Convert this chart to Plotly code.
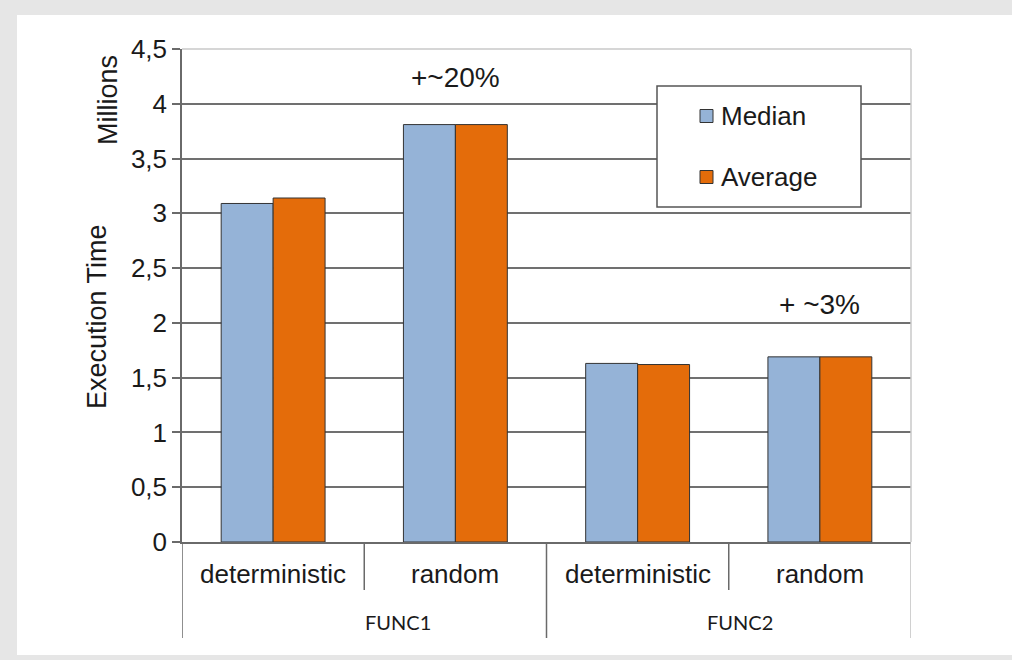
import plotly.graph_objects as go

groups = ["FUNC1", "FUNC1", "FUNC2", "FUNC2"]
methods = ["deterministic", "random", "deterministic", "random"]
categories = ["F1 det", "F1 rnd", "F2 det", "F2 rnd"]
median_vals = [3.09, 3.81, 1.63, 1.69]
average_vals = [3.14, 3.81, 1.62, 1.69]
y_ticks = [0, 0.5, 1, 1.5, 2, 2.5, 3, 3.5, 4, 4.5]
y_ticktext = ["0", "0,5", "1", "1,5", "2", "2,5", "3", "3,5", "4", "4,5"]
group_labels = ["FUNC1", "FUNC2"]
series_names = ["Median", "Average"]
series_colors = ["#95B3D7", "#E46C0A"]
notes = [("F1 rnd", 4.24, "+~20%"), ("F2 rnd", 2.17, "+ ~3%")]

FONT = "Liberation Sans, Arial, sans-serif"
W, H = 1012, 660
L, R, T, B = 182, 101, 49, 118
pw, ph = W - L - R, H - T - B


def px_x(px):
    return (px - L) / pw


def px_y(py):
    return (H - B - py) / ph


fig = go.Figure()
for name, vals, col in zip(series_names, [median_vals, average_vals], series_colors):
    fig.add_trace(go.Bar(
        x=categories, y=vals, name=name,
        marker=dict(color=col, line=dict(color="#333333", width=1)),
    ))

shapes = []
# white panel inside gray frame
shapes.append(dict(type="rect", xref="paper", yref="paper",
                   x0=px_x(17), x1=px_x(1012), y0=px_y(655), y1=px_y(15),
                   fillcolor="white", line=dict(width=0), layer="below"))
# plot border (top/right, light)
shapes.append(dict(type="line", xref="paper", yref="paper", x0=0, x1=1, y0=1, y1=1,
                   line=dict(color="#c8c8c8", width=1.5), layer="above"))
shapes.append(dict(type="line", xref="paper", yref="paper", x0=1, x1=1, y0=0, y1=1,
                   line=dict(color="#c8c8c8", width=1.5), layer="above"))
# category separators
for pos in [-0.5, 0.5, 1.5, 2.5, 3.5]:
    long = pos in (-0.5, 1.5, 3.5)
    bottom = px_y(638) if long else px_y(590)
    col = "#c0c0c0" if pos == 3.5 else "#6a6a6a"
    shapes.append(dict(type="line", xref="x", yref="paper", x0=pos, x1=pos,
                       y0=bottom, y1=0, line=dict(color=col, width=1.5)))

# manual legend box
shapes.append(dict(type="rect", xref="paper", yref="paper",
                   x0=px_x(657), x1=px_x(861), y0=px_y(207), y1=px_y(86),
                   fillcolor="white", line=dict(color="#555555", width=1.5), layer="above"))
annotations = []
for i, (name, col) in enumerate(zip(series_names, series_colors)):
    cy = 116 + i * 61
    shapes.append(dict(type="rect", xref="paper", yref="paper",
                       x0=px_x(700), x1=px_x(713), y0=px_y(cy + 6.5), y1=px_y(cy - 6.5),
                       fillcolor=col, line=dict(color="#333333", width=1), layer="above"))
    annotations.append(dict(x=px_x(719), xref="paper", y=px_y(cy), yref="paper", text=name,
                            showarrow=False, font=dict(family=FONT, size=26, color="#1a1a1a"),
                            xanchor="left", yanchor="middle"))

for cat, m in zip(categories, methods):
    annotations.append(dict(x=cat, xref="x", y=px_y(574), yref="paper", text=m,
                            showarrow=False, font=dict(family=FONT, size=26, color="#1a1a1a"),
                            xanchor="center", yanchor="middle"))
for gl, xp in zip(group_labels, [398, 740]):
    annotations.append(dict(x=px_x(xp), xref="paper", y=px_y(622), yref="paper", text=gl,
                            showarrow=False, font=dict(family="Lato, sans-serif", size=20, color="#1a1a1a"),
                            xanchor="center", yanchor="middle"))
for cat, yv, txt in notes:
    annotations.append(dict(x=cat, xref="x", y=yv, yref="y", text=txt, showarrow=False,
                            font=dict(family=FONT, size=28, color="#1a1a1a"),
                            xanchor="center", yanchor="middle"))
annotations.append(dict(x=px_x(97), xref="paper", y=px_y(317), yref="paper",
                        text="Execution Time", textangle=-90, showarrow=False,
                        font=dict(family=FONT, size=27, color="#1a1a1a"),
                        xanchor="center", yanchor="middle"))
annotations.append(dict(x=px_x(108), xref="paper", y=px_y(100), yref="paper",
                        text="Millions", textangle=-90, showarrow=False,
                        font=dict(family=FONT, size=27, color="#1a1a1a"),
                        xanchor="center", yanchor="middle"))

fig.update_layout(
    width=W, height=H,
    margin=dict(l=L, r=R, t=T, b=B, pad=0),
    paper_bgcolor="#e6e6e6",
    plot_bgcolor="white",
    barmode="group",
    bargap=0.43,
    bargroupgap=0,
    showlegend=False,
    hovermode=False,
    shapes=shapes,
    annotations=annotations,
    xaxis=dict(type="category", categoryorder="array", categoryarray=categories,
               range=[-0.5, 3.5], showticklabels=False, ticks="",
               showline=True, linecolor="#6a6a6a", linewidth=1.5, showgrid=False,
               zeroline=False),
    yaxis=dict(range=[0, 4.5], tickvals=y_ticks, ticktext=y_ticktext,
               ticks="outside", ticklen=8, tickcolor="#6a6a6a", tickwidth=1.5,
               showline=True, linecolor="#6a6a6a", linewidth=1.5,
               showgrid=True, gridcolor="#707070", gridwidth=1.5,
               zeroline=False,
               tickfont=dict(family=FONT, size=26, color="#1a1a1a")),
)

fig.write_html("out.html",
               config={"displayModeBar": False},
               post_script="document.body.style.margin='0';document.body.style.overflow='hidden';")
